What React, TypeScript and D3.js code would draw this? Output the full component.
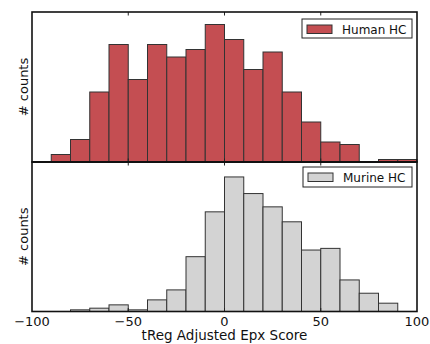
import React from 'react'
import * as d3 from 'd3'

// histogram bins, 10 units wide, left edges
const binStarts = [-90, -80, -70, -60, -50, -40, -30, -20, -10, 0, 10, 20, 30, 40, 50, 60, 70, 80, 90]
const humanCounts = [3, 9, 28, 47, 33, 47, 42, 45, 55, 49, 37, 44, 28, 16, 8, 7, 0, 1, 1]
const murineCounts = [0, 1, 2, 4, 1, 7, 13, 33, 60, 81, 71, 63, 54, 37, 38, 19, 11, 5, 0]
const xTicks = [-100, -50, 0, 50, 100]
const binWidth = 10

const W = 430
const H = 344
const left = 32
const right = 417
const panels = [
  { name: 'Human HC', counts: humanCounts, fill: '#c44e52', top: 12, bottom: 162, yMax: 60, legend: { x: 302, y: 19, w: 110, h: 19 } },
  { name: 'Murine HC', counts: murineCounts, fill: '#d3d3d3', top: 162, bottom: 311.5, yMax: 90, legend: { x: 303, y: 167, w: 109, h: 20 } },
]

const font = '"DejaVu Sans", sans-serif'

export default function App() {
  const x = d3.scaleLinear().domain([-100, 100]).range([left, right])

  return (
    <svg width={W} height={H} style={{ position: 'absolute', left: 0, top: 0, background: '#fff' }} fontFamily={font}>
      {panels.map((p, pi) => {
        const y = d3.scaleLinear().domain([0, p.yMax]).range([p.bottom, p.top])
        const cy = (p.top + p.bottom) / 2
        return (
          <g key={p.name}>
            {binStarts.map((b, i) => {
              const c = p.counts[i]
              if (!c) return null
              return (
                <rect
                  key={b}
                  x={x(b)}
                  y={y(c)}
                  width={x(b + binWidth) - x(b)}
                  height={y(0) - y(c)}
                  fill={p.fill}
                  stroke="#333"
                  strokeWidth={1}
                />
              )
            })}
            {/* ticks pointing inward */}
            {xTicks.slice(1, -1).map(t => (
              <g key={t}>
                <line x1={x(t)} x2={x(t)} y1={p.top} y2={p.top + 3.5} stroke="#222" strokeWidth={1} />
                <line x1={x(t)} x2={x(t)} y1={p.bottom} y2={p.bottom - 3.5} stroke="#222" strokeWidth={1} />
              </g>
            ))}
            <rect x={left} y={p.top} width={right - left} height={p.bottom - p.top} fill="none" stroke="#111" strokeWidth={1.6} />
            <text
              transform={`translate(23,${cy}) rotate(-90)`}
              textAnchor="middle"
              dominantBaseline="central"
              fontSize={13}
              fill="#111"
            >
              # counts
            </text>
            <g>
              <rect x={p.legend.x} y={p.legend.y} width={p.legend.w} height={p.legend.h} fill="#fff" stroke="#222" strokeWidth={1} />
              <rect x={p.legend.x + 5} y={p.legend.y + 6} width={25} height={8.5} fill={p.fill} stroke="#333" strokeWidth={1} />
              <text x={p.legend.x + 40} y={p.legend.y + 14.5} fontSize={12} fill="#111">{p.name}</text>
            </g>
            {pi === panels.length - 1 && xTicks.map(t => (
              <text key={t} x={x(t)} y={p.bottom + 14} textAnchor="middle" fontSize={13} fill="#111">
                {t < 0 ? `\u2212${Math.abs(t)}` : t}
              </text>
            ))}
          </g>
        )
      })}
      <line x1={left} x2={right} y1={162} y2={162} stroke="#111" strokeWidth={2} />
      <text x={(left + right) / 2} y={340} textAnchor="middle" fontSize={13.5} fill="#111">tReg Adjusted Epx Score</text>
    </svg>
  )
}
